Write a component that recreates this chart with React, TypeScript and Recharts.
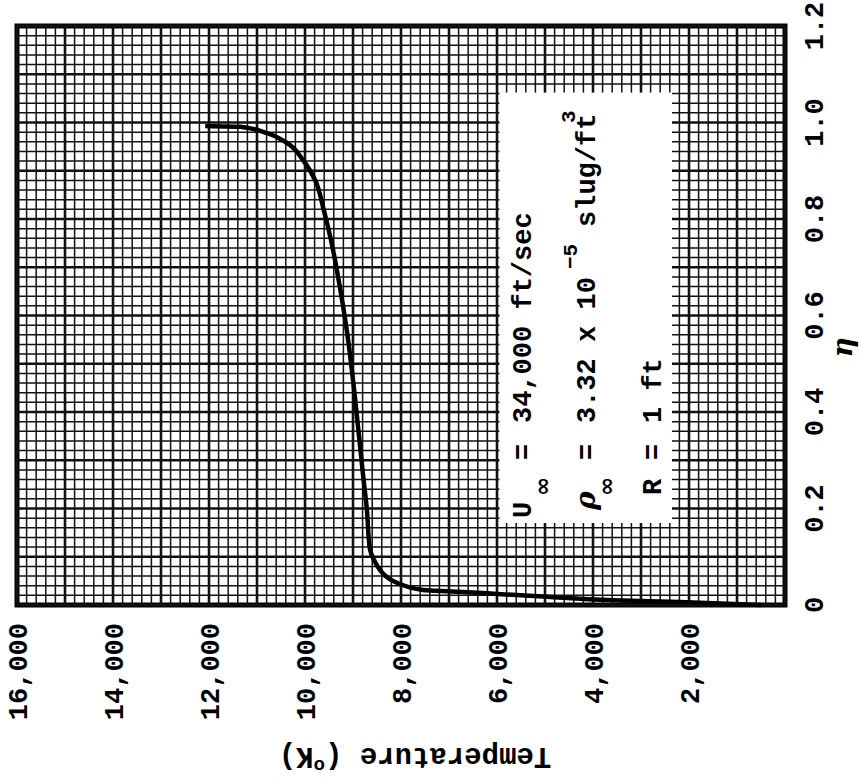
import React from "react";
import {
  LineChart,
  Line,
  XAxis,
  YAxis,
  ReferenceLine,
  ReferenceArea,
} from "recharts";

// temperature profile across the shock layer
const etaValues = [
  0, 0.006, 0.01, 0.017, 0.023, 0.027, 0.031, 0.046, 0.056, 0.073, 0.089,
  0.118, 0.197, 0.269, 0.431, 0.57, 0.663, 0.757, 0.819, 0.881, 0.922, 0.958,
  0.978, 0.991, 0.993,
];
const tempValues = [
  500, 2190, 3580, 4960, 6000, 6710, 7540, 8080, 8270, 8440, 8540, 8650, 8710,
  8790, 8960, 9130, 9280, 9460, 9610, 9790, 10040, 10380, 10790, 11350, 12080,
];

const etaTicks = [0, 0.2, 0.4, 0.6, 0.8, 1.0, 1.2];
const tempTicks = [2000, 4000, 6000, 8000, 10000, 12000, 14000, 16000];

// pasted-on label box (eta / temperature bounds)
const boxEta = [0.17, 1.062];
const boxTemp = [2354, 5950];

// graph paper: fine rule every 0.02 / 200 K, bold rule every 0.1 / 1000 K
const etaRules = Array.from({ length: 61 }, (_, i) => i);
const tempRules = Array.from({ length: 81 }, (_, i) => i);

const data = etaValues.map((eta, i) => ({ eta, temp: tempValues[i] }));

const MONO = "'Liberation Mono', 'DejaVu Sans Mono', monospace";
const SERIF = "'DejaVu Serif', 'Liberation Serif', serif";

// rule segments, split so they stop at the label box
function etaRuleSegments(eta: number) {
  if (eta <= boxEta[0] || eta >= boxEta[1]) {
    return [[{ x: eta, y: 0 }, { x: eta, y: 16000 }]];
  }
  return [
    [{ x: eta, y: 0 }, { x: eta, y: boxTemp[0] }],
    [{ x: eta, y: boxTemp[1] }, { x: eta, y: 16000 }],
  ];
}

function tempRuleSegments(temp: number) {
  if (temp <= boxTemp[0] || temp >= boxTemp[1]) {
    return [[{ x: 0, y: temp }, { x: 1.2, y: temp }]];
  }
  return [
    [{ x: 0, y: temp }, { x: boxEta[0], y: temp }],
    [{ x: boxEta[1], y: temp }, { x: 1.2, y: temp }],
  ];
}

function Conditions({ viewBox }: any) {
  const x = viewBox.x;
  const y = viewBox.y;
  const t = { fontFamily: MONO, fontSize: 27, fill: "#000", fontWeight: 600 };
  const small = { fontFamily: MONO, fontSize: 21, fill: "#000", fontWeight: 600 };
  const inf = {
    fontFamily: "'DejaVu Sans', sans-serif",
    fontSize: 23,
    fill: "#000",
    fontWeight: 700,
  };
  return (
    <g>
      <text x={x + 5} y={y + 32} {...t}>U</text>
      <text x={x + 27} y={y + 51} {...inf}>∞</text>
      <text x={x + 63} y={y + 32} {...t}>=</text>
      <text x={x + 100} y={y + 32} {...t}>34,000 ft/sec</text>

      <text
        x={x + 13}
        y={y + 96}
        fontFamily={SERIF}
        fontSize={28}
        fontStyle="italic"
        fontWeight="bold"
        fill="#000"
      >
        ρ
      </text>
      <text x={x + 27} y={y + 115} {...inf}>∞</text>
      <text x={x + 63} y={y + 96} {...t}>=</text>
      <text x={x + 100} y={y + 96} {...t}>3.32 x 10</text>
      <text x={x + 254} y={y + 78} {...small}>−5</text>
      <text x={x + 296} y={y + 96} {...t}>slug/ft</text>
      <text x={x + 400} y={y + 76} {...small}>3</text>

      <text x={x + 28} y={y + 162} {...t}>R</text>
      <text x={x + 63} y={y + 162} {...t}>=</text>
      <text x={x + 100} y={y + 162} {...t}>1 ft</text>
    </g>
  );
}

function TempLabel({ viewBox }: any) {
  const cx = viewBox.x - 23;
  const cy = viewBox.y + viewBox.height / 2 + 14;
  return (
    <text
      x={cx}
      y={cy}
      transform={`rotate(-90, ${cx}, ${cy})`}
      textAnchor="middle"
      fontFamily={MONO}
      fontSize={29}
      fontWeight={600}
      fill="#000"
    >
      Temperature (
      <tspan fontSize={19} dy={-12}>o</tspan>
      <tspan dy={12}>K)</tspan>
    </text>
  );
}

function EtaLabel({ viewBox }: any) {
  return (
    <text
      x={viewBox.x + viewBox.width * 0.445}
      y={viewBox.y + 67}
      textAnchor="middle"
      fontFamily={SERIF}
      fontSize={28}
      fontStyle="italic"
      fontWeight="bold"
      fill="#000"
    >
      η
    </text>
  );
}

const tickStyle = { fontFamily: MONO, fontSize: 27, fill: "#000", fontWeight: 600 };

export default function App() {
  return (
    <div
      style={{
        position: "absolute",
        left: 0,
        top: 0,
        width: 859,
        height: 781,
        overflow: "hidden",
        background: "#fff",
      }}
    >
      <div
        style={{
          position: "absolute",
          left: 0,
          top: 0,
          width: 781,
          height: 859,
          transformOrigin: "0 0",
          transform: "translateY(781px) rotate(-90deg)",
        }}
      >
        <LineChart
          width={781}
          height={859}
          data={data}
          margin={{ top: 17, right: 26, bottom: 14, left: 56 }}
        >
          <XAxis
            type="number"
            dataKey="eta"
            domain={[0, 1.2]}
            ticks={etaTicks}
            tickFormatter={(v: number) => (v === 0 ? "0" : v.toFixed(1))}
            axisLine={false}
            tickLine={false}
            tickSize={0}
            tickMargin={19}
            height={60}
            tick={tickStyle}
            label={<EtaLabel />}
          />
          <YAxis
            type="number"
            domain={[0, 16000]}
            ticks={tempTicks}
            tickFormatter={(v: number) => v.toLocaleString("en-US")}
            axisLine={false}
            tickLine={false}
            tickSize={0}
            tickMargin={18}
            width={120}
            tick={tickStyle}
            label={<TempLabel />}
          />
          {etaRules.flatMap((i) =>
            etaRuleSegments(+(i * 0.02).toFixed(2)).map((seg, k) => (
              <ReferenceLine
                key={"e" + i + "-" + k}
                segment={seg}
                stroke="#111"
                strokeWidth={i % 5 === 0 ? 2.6 : 1.5}
              />
            ))
          )}
          {tempRules.flatMap((i) =>
            tempRuleSegments(i * 200).map((seg, k) => (
              <ReferenceLine
                key={"t" + i + "-" + k}
                segment={seg}
                stroke="#111"
                strokeWidth={i % 5 === 0 ? 2.6 : 1.5}
              />
            ))
          )}
          <ReferenceArea
            x1={boxEta[0]}
            x2={boxEta[1]}
            y1={boxTemp[0]}
            y2={boxTemp[1]}
            fill="#fff"
            fillOpacity={1}
            stroke="none"
            label={<Conditions />}
          />
          <Line
            dataKey="temp"
            type="monotone"
            stroke="#000"
            strokeWidth={4.5}
            dot={false}
            isAnimationActive={false}
          />
          <ReferenceArea
            x1={0}
            x2={1.2}
            y1={0}
            y2={16000}
            fill="none"
            stroke="#000"
            strokeWidth={5}
          />
        </LineChart>
      </div>
    </div>
  );
}
